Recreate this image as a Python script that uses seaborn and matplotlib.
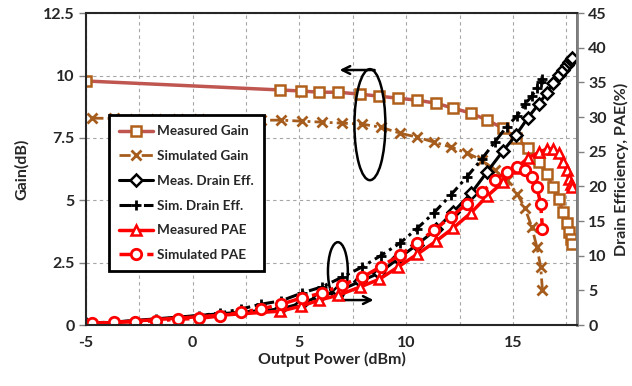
import matplotlib
matplotlib.use('Agg')
import matplotlib.pyplot as plt
import seaborn as sns
from matplotlib.patches import Ellipse
from matplotlib.ticker import MultipleLocator

# measured data (output power in dBm)
meas_pout = [-5, 4.11, 5.05, 5.93, 6.82, 7.85, 8.74, 9.63, 10.51, 11.4, 12.2, 13.04, 13.79,
             14.53, 15.14, 15.7, 16.21, 16.59, 16.87, 17.15, 17.34, 17.52, 17.62, 17.71, 17.76]
meas_gain = [9.78, 9.42, 9.38, 9.33, 9.33, 9.25, 9.17, 9.09, 9.01, 8.89, 8.69, 8.49, 8.21,
             7.89, 7.49, 7.09, 6.53, 6.05, 5.53, 5.05, 4.53, 4.09, 3.73, 3.45, 3.25]
meas_de = [0.1, 2.3, 3.1, 4.1, 4.9, 6.3, 7.5, 9.6, 11.6, 13.8, 16.3, 19.0, 22.1,
           25.1, 27.4, 29.9, 31.9, 33.5, 34.9, 36.1, 36.8, 37.5, 37.9, 38.2, 38.5]
meas_pae = [0.1, 2.0, 2.7, 3.6, 4.3, 5.5, 6.6, 8.4, 10.2, 12.1, 14.0, 16.2, 18.6,
            20.6, 22.6, 24.1, 24.9, 25.4, 25.4, 24.8, 23.5, 22.3, 21.1, 20.3, 19.9]

# simulated data
sim_pout = [-4.7, -3.7, -2.7, -1.7, -0.7, 0.3, 1.3, 2.25, 3.2, 4.15, 5.1, 6.05, 7.0, 7.95,
            8.8, 9.7, 10.5, 11.3, 12.1, 12.85, 13.55, 14.15, 14.7, 15.2, 15.56, 15.88,
            16.12, 16.3, 16.38]
sim_gain = [8.29, 8.28, 8.27, 8.26, 8.25, 8.24, 8.23, 8.22, 8.21, 8.21, 8.17, 8.13, 8.09, 8.05,
            7.93, 7.69, 7.53, 7.33, 7.13, 6.89, 6.61, 6.21, 5.81, 5.25, 4.69, 3.93,
            3.13, 2.32, 1.40]
sim_de = [0.3, 0.45, 0.6, 0.8, 1.05, 1.35, 1.75, 2.3, 3.0, 3.5, 4.6, 5.5, 6.9, 8.4,
          10.0, 11.8, 13.9, 16.2, 18.8, 21.4, 24.0, 26.4, 28.6, 30.2, 31.9, 33.0,
          34.2, 35.1, 35.5]
sim_pae = [0.25, 0.39, 0.48, 0.62, 0.82, 0.97, 1.3, 1.85, 2.3, 3.0, 3.9, 4.6, 5.8, 6.9,
           8.4, 10.1, 11.8, 13.7, 15.6, 17.5, 19.2, 20.9, 22.1, 22.8, 22.4, 21.4,
           19.9, 17.5, 13.9]

sns.set_theme(style='white')
plt.rcParams['font.family'] = ['Lato', 'DejaVu Sans']
plt.rcParams['font.weight'] = 'bold'
plt.rcParams['axes.unicode_minus'] = False

fig = plt.figure(figsize=(6.32, 3.86), dpi=100)
ax = fig.add_axes([0.136, 0.158, 0.777, 0.808])
ax2 = ax.twinx()

dashdot = (0, (4, 1.5, 1, 1.5))

sns.lineplot(x=meas_pout, y=meas_gain, ax=ax, color='#BF5650', lw=2.5, marker='s', ms=7,
             mfc='white', mec='#B0601A', mew=1.8, label='Measured Gain', legend=False)
sns.lineplot(x=sim_pout, y=sim_gain, ax=ax, color='#A65C1C', lw=2, linestyle=dashdot,
             marker='x', ms=7, mec='#A65C1C', mew=2, label='Simulated Gain', legend=False)

sns.lineplot(x=meas_pout, y=meas_de, ax=ax2, color='black', lw=2.2, marker='D', ms=6,
             mfc='white', mec='black', mew=1.8, label='Meas. Drain Eff.', legend=False)
sns.lineplot(x=sim_pout, y=sim_de, ax=ax2, color='black', lw=2.2, linestyle=dashdot,
             marker='+', ms=7.5, mec='black', mew=2, label='Sim. Drain Eff.', legend=False)
sns.lineplot(x=meas_pout, y=meas_pae, ax=ax2, color='#FF0000', lw=2.5, marker='^', ms=7,
             mfc='white', mec='#FF0000', mew=1.8, label='Measured PAE', legend=False)
sns.lineplot(x=sim_pout, y=sim_pae, ax=ax2, color='#FF0000', lw=2.5, linestyle=dashdot,
             marker='o', ms=7.5, mfc='white', mec='#FF0000', mew=2, label='Simulated PAE',
             legend=False)

ax.set_xlim(-5, 18)
ax.set_ylim(0, 12.5)
ax2.set_ylim(0, 45)
ax.xaxis.set_major_locator(MultipleLocator(5))
ax.xaxis.set_minor_locator(MultipleLocator(2.5))
ax2.yaxis.set_major_locator(MultipleLocator(5))
ax.set_yticks([0, 2.5, 5, 7.5, 10, 12.5], ['0', '2.5', '5', '7.5', '10', '12.5'])

ax.grid(True, which='both', axis='x', color='#A6A6A6', lw=0.8, linestyle=(0, (3, 3)))
ax.grid(True, which='major', axis='y', color='#A6A6A6', lw=0.8, linestyle=(0, (3, 3)))

ax.tick_params(axis='x', which='both', length=0, labelsize=11.5, pad=8)
ax.tick_params(axis='y', length=5, width=1, color='#808080', labelsize=11.5, pad=3)
ax2.tick_params(axis='y', length=5, width=1, color='#808080', labelsize=11.5, pad=3)

ax.set_xlabel('Output Power (dBm)', fontsize=11.5, fontweight='bold', labelpad=1)
ax.set_ylabel('Gain(dB)', fontsize=11.5, fontweight='bold', labelpad=10)
ax2.set_ylabel('Drain Efficiency, PAE(%)', fontsize=11.5, fontweight='bold', labelpad=5)

for s in ['left', 'top', 'bottom']:
    ax2.spines[s].set_color('#262626')
    ax2.spines[s].set_linewidth(1.5)
ax2.spines['right'].set_color('#7F7F7F')
ax2.spines['right'].set_linewidth(2)

# arrows and ellipses marking which axis each group belongs to
ax.add_patch(Ellipse((8.3, 8.03), 1.45, 4.45, fill=False, ec='black', lw=1.8, zorder=5))
ax.annotate('', xy=(6.75, 10.22), xytext=(8.65, 10.22),
            arrowprops=dict(arrowstyle='->', color='black', lw=1.8, mutation_scale=14))
ax.add_patch(Ellipse((6.8, 2.16), 0.93, 2.32, fill=False, ec='black', lw=1.8, zorder=5))
ax.annotate('', xy=(8.6, 1.0), xytext=(6.8, 1.0),
            arrowprops=dict(arrowstyle='->', color='black', lw=1.8, mutation_scale=14))

h1, l1 = ax.get_legend_handles_labels()
h2, l2 = ax2.get_legend_handles_labels()
leg = ax2.legend(h1 + h2, l1 + l2, loc='upper left', bbox_to_anchor=(0.047, 0.673),
                 fontsize=9.7, handlelength=2.5, labelspacing=0.95, borderpad=0.75,
                 handletextpad=0.3, fancybox=False, framealpha=1, edgecolor='black',
                 borderaxespad=0)
leg.get_frame().set_linewidth(2)
for t in leg.get_texts():
    t.set_fontweight('bold')

fig.savefig('out.png', dpi=100)
